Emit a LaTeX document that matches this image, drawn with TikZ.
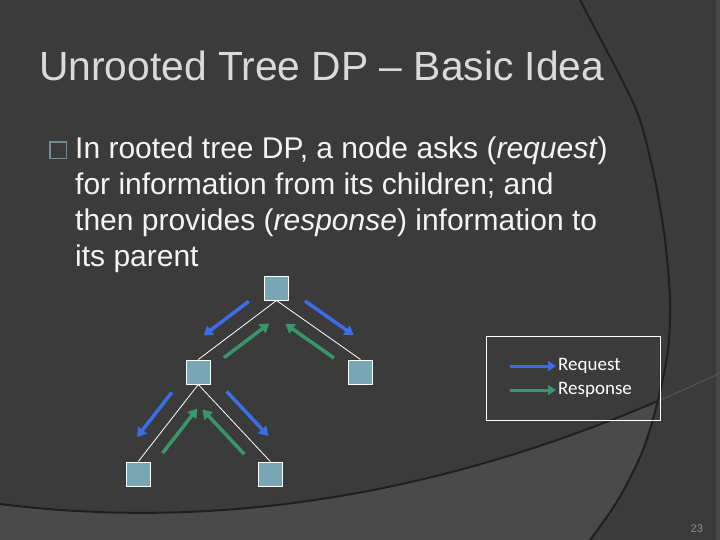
\documentclass[tikz,border=0pt]{standalone}
\usepackage{fontspec}
\setmainfont{Liberation Sans}
\newfontfamily\legendfont{Carlito}
\usepackage{tikz}
\usetikzlibrary{arrows.meta, positioning, calc}

\definecolor{slidebg}{HTML}{3B3B3B}
\definecolor{slidelow}{HTML}{4A4A4A}
\definecolor{swirl}{HTML}{1F1F1F}
\definecolor{swirlfaint}{HTML}{525252}
\definecolor{titlegray}{HTML}{DADADA}
\definecolor{bodywhite}{HTML}{F4F4F4}
\definecolor{bulletgray}{HTML}{6E8D99}
\definecolor{nodefill}{HTML}{78A6B4}
\definecolor{reqblue}{HTML}{3C6CE6}
\definecolor{respgreen}{HTML}{3A9669}
\definecolor{pagegray}{HTML}{8E8E8E}

\tikzset{
  treenode/.style={draw=white, line width=1pt, fill=nodefill, minimum size=24pt, inner sep=0pt},
  treeedge/.style={white, line width=0.8pt},
  request/.style={reqblue, line width=3.5pt, -{Triangle[length=9pt, width=11pt]}},
  response/.style={respgreen, line width=3.5pt, -{Triangle[length=9pt, width=11pt]}},
  legendarrow/.style={line width=3pt, -{Triangle[length=8pt, width=10pt]}},
  legendtext/.style={font=\legendfont\fontsize{19}{22}\selectfont, text=white, inner sep=2pt},
}

% request goes down beside the edge, response comes back up on the other side
\newcommand{\msgpair}[4]{%
  \draw[request] ($(#1.south)!.23!(#2.north)!16pt!#3:(#2.north)$) -- ($(#1.south)!.81!(#2.north)!16pt!#3:(#2.north)$);
  \draw[response] ($(#1.south)!.78!(#2.north)!14pt!#4:(#2.north)$) -- ($(#1.south)!.2!(#2.north)!14pt!#4:(#2.north)$);
}

\begin{document}
\begin{tikzpicture}[x=1pt, y=-1pt]
		% Background and swirls:
		\useasboundingbox (0,0) rectangle (720,540);
		\fill[slidebg] (0,0) rectangle (720,540);
		\fill[slidelow!85!slidebg] (716,0) rectangle (720,540);
		\draw[swirlfaint, line width=1.2pt] (0,504) .. controls (234.5,533.3) and (474.5,489.7) .. (720,373);
		\begin{scope}
			\clip (0,0) -- plot[smooth] coordinates {(580,0) (600,38) (622,80) (640,120) (655,180) (665,240) (670,300) (668,350) (658,400) (643,450) (618,500) (590,540)} -- (0,540) -- cycle;
			\fill[slidelow] (0,504) .. controls (234.5,533.3) and (474.5,489.7) .. (720,373) -- (720,540) -- (0,540) -- cycle;
			\draw[swirl, line width=2pt] (0,504) .. controls (234.5,533.3) and (474.5,489.7) .. (720,373);
		\end{scope}
		\draw[swirl, line width=2pt] plot[smooth] coordinates {(580,0) (600,38) (622,80) (640,120) (655,180) (665,240) (670,300) (668,350) (658,400) (643,450) (618,500) (590,540)};

		% Title and text:
		\node[anchor=base west, inner sep=0pt, text=titlegray, font=\fontsize{40.8}{48}\selectfont] (title) at (38.8,81) {Unrooted Tree DP -- Basic Idea};
		\node[draw=bulletgray, line width=1.5pt, minimum size=16.5pt, inner sep=0pt] (bullet) at (58,150.5) {};
		\node[anchor=north west, inner sep=0pt, align=left, text=bodywhite, font=\fontsize{30}{36}\selectfont] (body) at (75,136.5)
			{In rooted tree DP, a node asks (\textit{request})\\
			 for information from its children; and\\
			 then provides (\textit{response}) information to\\
			 its parent};

		% Tree:
		\node[treenode] (root) at (276.5,288) {};
		\node[treenode] (lft) at (198.3,372) {};
		\node[treenode] (rgt) at (360.5,372) {};
		\node[treenode] (lftlft) at (138.3,474) {};
		\node[treenode] (lftrgt) at (270.3,474) {};
		\draw[treeedge] (root.south) -- (lft.north);
		\draw[treeedge] (root.south) -- (rgt.north);
		\draw[treeedge] (lft.south) -- (lftlft.north);
		\draw[treeedge] (lft.south) -- (lftrgt.north);
		\msgpair{root}{lft}{-90}{90}
		\msgpair{root}{rgt}{90}{-90}
		\msgpair{lft}{lftlft}{-90}{90}
		\msgpair{lft}{lftrgt}{90}{-90}

		% Legend:
		\draw[white, line width=1pt] (486.5,336) rectangle (660.5,420);
		\node[legendtext, anchor=west] (reqlbl) at (556,366) {Request};
		\node[legendtext, anchor=west] (rsplbl) at (556,390) {Response};
		\coordinate (reqtail) at (510,366);
		\coordinate (rsptail) at (510,390);
		\draw[legendarrow, reqblue] (reqtail) -- (reqlbl.west);
		\draw[legendarrow, respgreen] (rsptail) -- (rsplbl.west);

		\node[anchor=base west, inner sep=0pt, text=pagegray, font=\fontsize{11}{13}\selectfont] (pagenum) at (690.5,532) {23};
	\end{tikzpicture}
\end{document}
